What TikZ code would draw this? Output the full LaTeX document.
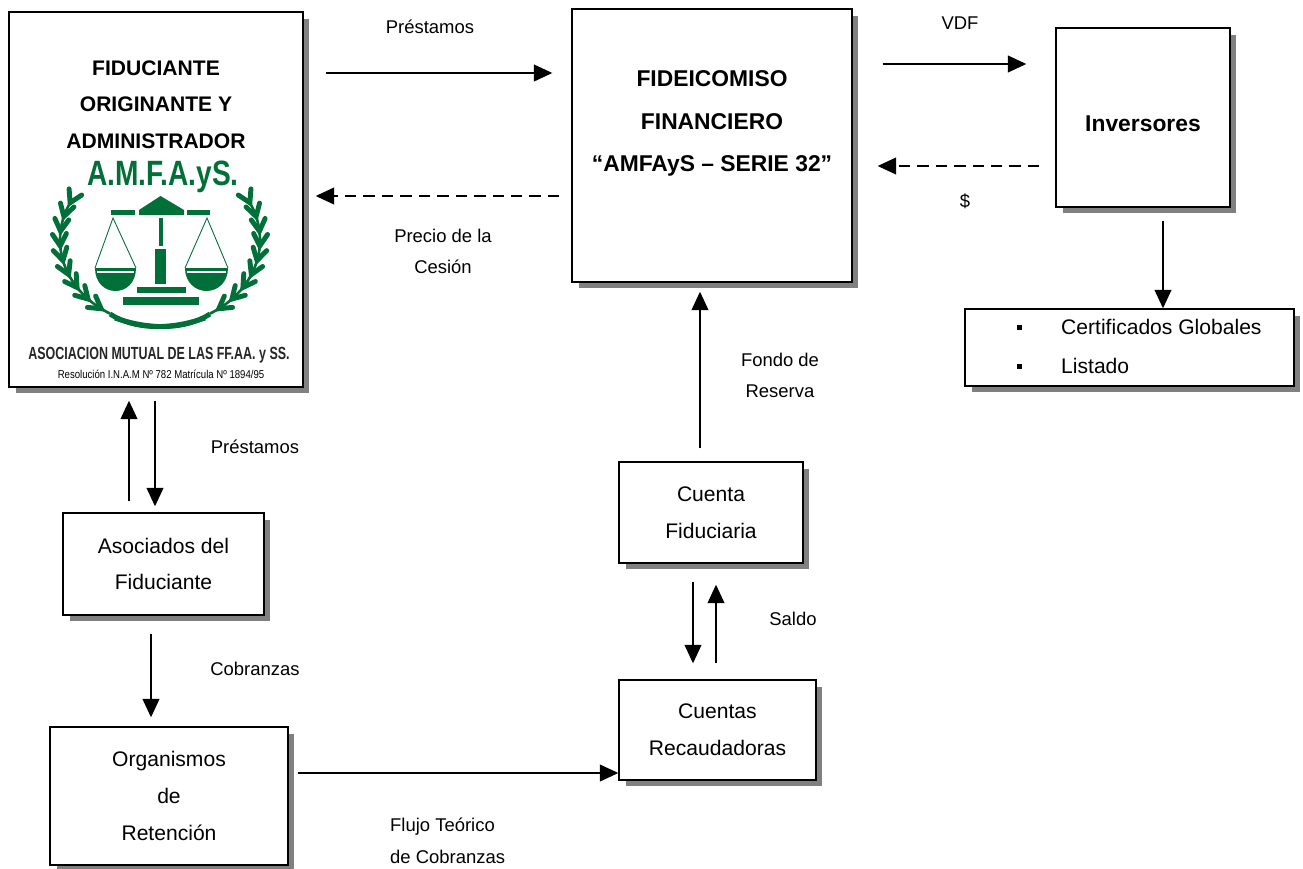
\documentclass[tikz,border=0pt]{standalone}
\usepackage{fontspec}
\setmainfont{Liberation Sans}
\usepackage{graphicx}
\usetikzlibrary{shadows,arrows.meta}
\definecolor{amfgreen}{RGB}{0,112,56}

\begin{document}
\begin{tikzpicture}[x=0.02cm,y=-0.02cm,
    arr/.style={-{Triangle[length=10.5pt,width=9.5pt]},line width=1.1pt},
    dsh/.style={arr,dash pattern=on 6.5pt off 4pt},
    lbl/.style={font=\fontsize{10.5}{18}\selectfont,align=center},
    txt/.style={font=\fontsize{12}{20.8}\selectfont,align=center},
    ttl/.style={font=\fontsize{13}{24}\selectfont\bfseries,align=center},
    leaf/.style={amfgreen,line width=2.8pt,line cap=round}]

  \useasboundingbox (0,0) rectangle (1303,869);

  \begin{scope}[every node/.style={draw,fill=white,line width=0.8pt,inner sep=0pt,
      drop shadow={shadow xshift=0.13cm,shadow yshift=-0.13cm,fill=black!50,opacity=1}}]
    \node[minimum width=5.88cm,minimum height=7.5cm]  (fidu)   at (156,199.5)  {};
    \node[minimum width=5.6cm,minimum height=5.46cm]  (fideic) at (712,145.5)  {};
    \node[minimum width=3.48cm,minimum height=3.58cm] (inv)    at (1143,117.5) {};
    \node[minimum width=6.58cm,minimum height=1.54cm] (cert)   at (1129.5,347.5) {};
    \node[txt,minimum width=3.68cm,minimum height=2.02cm] (ctafid) at (711,512.5) {Cuenta\\Fiduciaria};
    \node[txt,minimum width=3.94cm,minimum height=2cm]    (ctarec) at (717.5,730) {Cuentas\\Recaudadoras};
    \node[txt,minimum width=4.02cm,minimum height=2.04cm] (asoc)   at (163.5,564) {Asociados del\\Fiduciante};
    \node[txt,minimum width=4.76cm,minimum height=2.76cm] (organ)  at (169,796)   {Organismos\\de\\Retención};
  \end{scope}

  % texts in the big boxes
  \node[font=\fontsize{12}{20.8}\selectfont\bfseries,align=center] (fidutxt) at (156,104.5)
    {FIDUCIANTE\\ORIGINANTE Y\\ADMINISTRADOR};
  \node[ttl] (fideictxt) at (712,123.5) {FIDEICOMISO\\FINANCIERO\\“AMFAyS – SERIE 32”};
  \node[ttl] (invtxt) at (1143,124) {Inversores};
  \node[font=\fontsize{12}{22}\selectfont,align=left,anchor=west] (certtxt) at (1011,346.5)
    {\raisebox{2.5pt}{\rule{0.1cm}{0.1cm}}\hspace{0.78cm}Certificados Globales\\
     \raisebox{2.5pt}{\rule{0.1cm}{0.1cm}}\hspace{0.78cm}Listado};

  % logo
  \begin{scope}[amfgreen]
    \fill (139,215) -- (139,210) -- (160.5,196) -- (184,210) -- (184,215) -- cycle;
    \fill (111,210) rectangle (135,215);
    \fill (187,210) rectangle (210,215);
    \fill (158.5,218) rectangle (162.5,246);
    \fill (155,249) rectangle (166,284);
    \fill (137,287) rectangle (186,293);
    \fill (123,297) rectangle (199,305);
    \draw[line width=0.5pt] (95,268) -- (113,218) -- (136,268);
    \draw[line width=0.5pt] (185,268) -- (207,218) -- (228,268);
    \fill (95,268) -- (136,268) .. controls (136,283) and (126,291) .. (115.5,291)
      .. controls (105,291) and (95,283) .. (95,268) -- cycle;
    \fill (185,268) -- (228,268) .. controls (228,283) and (217,291) .. (206.5,291)
      .. controls (196,291) and (185,283) .. (185,268) -- cycle;
    \draw[white,line width=0.6pt] (97,272) -- (134,272);
    \draw[white,line width=0.6pt] (187,272) -- (226,272);
    \draw[line width=1.5pt] plot[domain=120:208,smooth,samples=20] ({160+100*cos(\x)},{240+85*sin(\x)});
    \draw[line width=1.5pt] plot[domain=-28:60,smooth,samples=20] ({160+100*cos(\x)},{240+85*sin(\x)});
    \foreach \a in {126,136,...,206}
      \draw[leaf] ({160+100*cos(\a)-12*sin(\a)+7*cos(\a)},{240+85*sin(\a)+12*cos(\a)+7*sin(\a)})
        -- ({160+100*cos(\a)},{240+85*sin(\a)})
        -- ({160+100*cos(\a)-12*sin(\a)-7*cos(\a)},{240+85*sin(\a)+12*cos(\a)-7*sin(\a)});
    \foreach \a in {-26,-16,...,54}
      \draw[leaf] ({160+100*cos(\a)+12*sin(\a)+7*cos(\a)},{240+85*sin(\a)-12*cos(\a)+7*sin(\a)})
        -- ({160+100*cos(\a)},{240+85*sin(\a)})
        -- ({160+100*cos(\a)+12*sin(\a)-7*cos(\a)},{240+85*sin(\a)-12*cos(\a)-7*sin(\a)});
    \draw[line width=2.8pt] (110,314) .. controls (135,330) and (170,330) .. (205,318);
    \draw[line width=2.8pt] (210,314) .. controls (185,330) and (150,330) .. (115,318);
  \end{scope}
  \node[amfgreen,anchor=base,font=\fontsize{20}{20}\selectfont\bfseries] (amfays) at (163,185)
    {\scalebox{0.8}[1]{A.M.F.A.yS.}};
  \node[black!85,anchor=base,font=\fontsize{10}{10}\selectfont\bfseries] (asocname) at (159,359)
    {\scalebox{0.71}[1]{ASOCIACION MUTUAL DE LAS FF.AA. y SS.}};
  \node[anchor=base,font=\fontsize{6.5}{6.5}\selectfont] (resol) at (161,378)
    {\scalebox{0.84}[1]{Resolución I.N.A.M Nº 782 Matrícula Nº 1894/95}};

  % labels
  \node[lbl] (lprest1) at (430,27) {Préstamos};
  \node[lbl] (lprecio) at (443,251.5) {Precio de la\\Cesión};
  \node[lbl] (lvdf) at (960,23) {VDF};
  \node[lbl] (lpesos) at (965,201) {\$};
  \node[lbl] (lfondo) at (780,375.5) {Fondo de\\Reserva};
  \node[lbl] (lprest2) at (255,447) {Préstamos};
  \node[lbl] (lcobr) at (255,669) {Cobranzas};
  \node[lbl] (lsaldo) at (793,619) {Saldo};
  \node[lbl,align=left,anchor=west] (lflujo) at (384,840.5) {Flujo Teórico\\de Cobranzas};

  % connectors
  \begin{scope}[every edge/.style={draw,arr}]
    \path (fidu.east |- 0,73) edge[shorten <=0.44cm,shorten >=0.38cm] (fideic.west |- 0,73);
    \path (fideic.west |- 0,196) edge[dsh,shorten <=0.24cm,shorten >=0.24cm] (fidu.east |- 0,196);
    \path (fideic.east |- 0,64) edge[shorten <=0.6cm,shorten >=0.58cm] (inv.west |- 0,64);
    \path (inv.west |- 0,166) edge[dsh,shorten <=0.32cm,shorten >=0.5cm] (fideic.east |- 0,166);
    \path (inv.south -| 1163,0) edge[shorten <=0.26cm] (cert.north -| 1163,0);
    \path (ctafid.north -| 700,0) edge[shorten <=0.26cm,shorten >=0.18cm] (fideic.south -| 700,0);
    \path (asoc.north -| 129,0) edge[shorten <=0.22cm,shorten >=0.26cm] (fidu.south -| 129,0);
    \path (fidu.south -| 155,0) edge[shorten <=0.26cm,shorten >=0.12cm] (asoc.north -| 155,0);
    \path (asoc.south -| 151,0) edge[shorten <=0.36cm,shorten >=0.18cm] (organ.north -| 151,0);
    \path (organ.east |- 0,773) edge[shorten <=0.18cm] (ctarec.west |- 0,773);
    \path (ctafid.south -| 693,0) edge[shorten <=0.36cm,shorten >=0.32cm] (ctarec.north -| 693,0);
    \path (ctarec.north -| 716,0) edge[shorten <=0.32cm,shorten >=0.42cm] (ctafid.south -| 716,0);
  \end{scope}

\end{tikzpicture}
\end{document}
